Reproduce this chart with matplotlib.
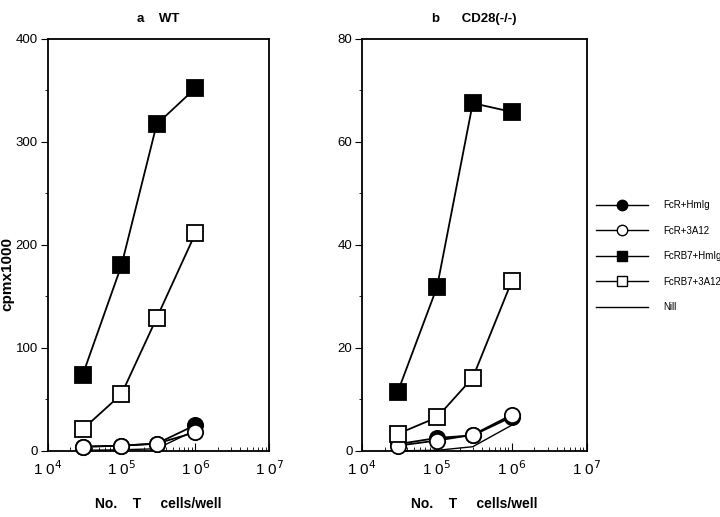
import numpy as np
import matplotlib.pyplot as plt
from matplotlib.lines import Line2D

cells = [3e4, 1e5, 3e5, 1e6]

labels = ['FcR+HmIg', 'FcR+3A12', 'FcRB7+HmIg', 'FcRB7+3A12', 'Nill']

# panel a, WT
wt_fcr_hmig = [4, 5, 7, 25]
wt_fcr_3a12 = [4, 5, 7, 18]
wt_b7_hmig = [74, 180, 317, 352]
wt_b7_3a12 = [21, 55, 129, 211]
wt_nil = [0.5, 1, 2, 20]

# panel b, CD28(-/-)
ko_fcr_hmig = [1.3, 2.5, 3.0, 6.6]
ko_fcr_3a12 = [1.0, 2.0, 3.1, 7.0]
ko_b7_hmig = [11.5, 31.8, 67.5, 65.8]
ko_b7_3a12 = [3.3, 6.5, 14.2, 33.0]
ko_nil = [0.0, 0.1, 0.8, 5.0]

styles = [
    dict(marker='o', mfc='black', ms=11),
    dict(marker='o', mfc='white', ms=11),
    dict(marker='s', mfc='black', ms=11),
    dict(marker='s', mfc='white', ms=11),
    dict(marker=None, lw=1.0),
]

plt.rcParams['font.family'] = ['Liberation Sans', 'DejaVu Sans']

fig = plt.figure(figsize=(7.2, 5.17), dpi=100)
ax1 = fig.add_axes([0.066, 0.128, 0.308, 0.797])
ax2 = fig.add_axes([0.503, 0.128, 0.312, 0.797])


def draw_panel(ax, series, ymax, ystep, title):
    order = [4, 0, 1, 3, 2]
    for i in order:
        st = dict(color='black', lw=1.3, mec='black', mew=1.3)
        st.update(styles[i])
        ax.plot(cells, series[i], clip_on=False, zorder=3, **st)
    ax.set_xscale('log')
    ax.set_xlim(1e4, 1e7)
    ax.set_ylim(0, ymax)
    ax.set_xticks([1e4, 1e5, 1e6, 1e7])
    ax.set_xticklabels([r'1 0$^{4}$', r'1 0$^{5}$', r'1 0$^{6}$', r'1 0$^{7}$'])
    ax.set_yticks(np.arange(0, ymax + 1, ystep))
    ax.set_yticks(np.arange(ystep / 2, ymax, ystep), minor=True)
    ax.tick_params(axis='x', which='both', direction='in', labelsize=11, pad=6)
    ax.tick_params(axis='x', which='major', length=6)
    ax.tick_params(axis='x', which='minor', length=3)
    ax.tick_params(axis='y', which='major', direction='out', length=5, labelsize=9.5, pad=2)
    ax.tick_params(axis='y', which='minor', direction='out', length=2)
    for s in ax.spines.values():
        s.set_linewidth(1.3)
    ax.set_title(title, fontsize=9.5, fontweight='bold', pad=12)
    ax.set_xlabel('No.    T     cells/well', fontsize=10, fontweight='bold', labelpad=14)


draw_panel(ax1, [wt_fcr_hmig, wt_fcr_3a12, wt_b7_hmig, wt_b7_3a12, wt_nil],
           400, 100, 'a    WT')
draw_panel(ax2, [ko_fcr_hmig, ko_fcr_3a12, ko_b7_hmig, ko_b7_3a12, ko_nil],
           80, 20, 'b      CD28(-/-)')
ax1.set_ylabel('cpmx1000', fontsize=11, fontweight='bold')
ax1.yaxis.set_label_coords(-0.15, 0.43)

handles = []
for i in range(5):
    st = dict(color='black', lw=1.0, mec='black', mew=1.0)
    st.update(styles[i])
    if st['marker'] is not None:
        st['ms'] = 7.5
    handles.append(Line2D([], [], **st))
fig.legend(handles, labels, loc='upper left', bbox_to_anchor=(0.815, 0.63),
           frameon=False, prop=dict(family='Liberation Sans', size=7),
           handlelength=5.35, labelspacing=1.6, handletextpad=1.6)

fig.savefig('out.png', dpi=100)
